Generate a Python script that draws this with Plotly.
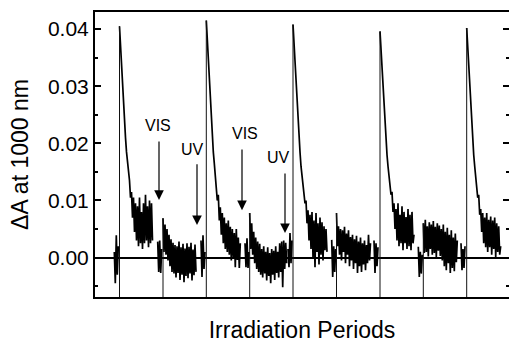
import numpy as np
import plotly.graph_objects as go

# ---- data (time in a.u., signal in units of 1e-3 ΔA) ----
uv_starts = [24.5, 111.3, 198.0, 285.0, 371.7]
vis_starts = [68.0, 154.7, 241.5, 328.3]
dark_starts = [19.3, 62.7, 106.0, 150.0, 193.0, 236.7, 279.0, 323.3, 366.0]

dark = [
    [1.0, -4.5, 3.9, -3.0, 2.0],
    [2.8, -2.5, 3.0, -2.7, 1.5],
    [3.0, -3.4, 3.9, -2.0, 1.0],
    [2.5, -1.7, 3.4, -1.8, 1.0],
    [1.5, -1.7, 4.3, -1.0, 3.0],
    [3.1, -3.4, 2.0, -2.5, 1.5],
    [3.0, -2.7, 2.5, -1.5, 1.8],
    [1.9, -3.4, 1.0, -2.8, 0.5],
    [2.5, -2.2, 1.5, -1.8, 2.0],
]

uv1 = [40.5, 37, 32.5, 29.5, 26, 23.5, 21, 18.5, 17, 14.5, 13.5, 10.5, 11.5, 7, 10.5, 4.5,
       9.5, 3, 9, 2, 10.5, 2.5, 8, 1.5, 9.5, 2.5, 11, 3, 9, 1.8, 10, 2.5, 9.5, 3]
uv2 = [41.5, 38, 33.5, 30, 26.5, 23.5, 21, 18.5, 16.5, 14, 12.5, 10, 11, 6.5, 8.8, 4,
       7.8, 2.5, 7, 1.5, 6, 1, 6.5, 0.5, 5.4, -0.5, 5, 0, 4.3, -1.7, 5, -0.4, 3.5, -1.8, 2.5]
uv3 = [40.8, 37.5, 33, 29.5, 26, 23, 20.5, 18.5, 16, 14.5, 12.5, 11.5, 9.5, 10, 6, 8.3,
       3, 7.5, 1.5, 8, 0, 6.5, -1.7, 7.8, 1, 6, -1.2, 7, 0.5, 6.2, -0.5, 5.5, 1.3, 5, 1]
uv4 = [39.6, 36.5, 32, 28.5, 25.5, 22.5, 20, 18, 16, 14, 13, 11, 11.5, 8, 9.5, 5,
       8.5, 3, 9.5, 2, 7.5, 2.5, 9, 1.3, 8, 2.5, 7.1, 1.5, 8.5, 2, 7.5, 1.3, 8, 2.5, 4]
uv5 = [40.2, 37, 33, 29.5, 26.5, 23, 20.5, 18, 16, 14, 12.5, 10.5, 11, 7.5, 8.5, 4.5,
       7.8, 2.5, 7.0, 1.8, 7.8, 1.0, 6.6, 1.8, 7.2, 0.5, 6.5, 1.5, 7.0, 0.1, 6.0, 1.0, 5.5, 0.5, 2.0]

vis1 = [6.9, 1.0, 5.8, 0.5, 5.0, -0.5, 4.0, -1.5, 3.2, -2.5, 2.6, -2.8, 2.2, -3.5, 2.0, -2.7,
        2.8, -3.9, 1.8, -3.0, 2.4, -4.3, 1.6, -3.2, 2.5, -3.6, 1.9, -2.8, 2.6, -4.0, 1.4, -3.1, 2.3, -2.5]
vis2 = [7.8, 1.5, 6.0, 0.5, 4.5, -1.0, 3.5, -2.0, 2.8, -2.5, 2.4, -3.0, 1.5, -3.5, 2.0, -2.8,
        1.0, -4.0, 1.8, -3.2, 0.8, -4.5, 1.5, -3.0, 1.2, -3.9, 2.0, -2.7, 1.0, -3.5, 2.5, -2.5,
        2.8, -5.2, 3.0, -2.0, 2.6, -1.0]
vis3 = [7.8, 2.0, 5.5, 0.5, 5.0, -0.5, 4.8, 1.0, 5.4, -1.0, 4.2, 0.5, 4.8, -1.5, 3.6, -0.5,
        4.0, -2.0, 3.2, -1.0, 3.8, -2.7, 2.8, -1.5, 3.5, -2.5, 2.5, -1.2, 3.0, -2.2, 2.2, -1.0, 4.0, -0.5, 2.5]
vis4 = [6.0, 0.8, 6.6, 1.0, 5.5, 0.2, 6.2, 1.5, 5.8, 0.5, 6.4, 0.8, 5.4, 0.1, 6.0, 1.2,
        5.6, 0.3, 5.0, -0.5, 5.8, -1.5, 4.5, -2.2, 5.2, -1.0, 4.0, -2.7, 4.8, -1.8, 3.5, -2.4, 4.2, -0.8, 3.0]

# annotation labels
arrow_labels = ["VIS", "UV", "VIS", "UV"]
arrow_x = [64, 102, 147, 190]
arrow_top = [20.6, 16.6, 19.2, 15.0]
arrow_tip = [10.1, 5.7, 8.3, 4.3]
label_x = [63, 97, 150, 183]
label_y = [23.2, 19.0, 21.8, 17.6]

# ---- assemble ----
uv = [uv1, uv2, uv3, uv4, uv5]
vis = [vis1, vis2, vis3, vis4]
segments = []
for s, v in zip(dark_starts, dark):
    segments.append((s, v))
for s, v in zip(uv_starts, uv):
    segments.append((s, v))
for s, v in zip(vis_starts, vis):
    segments.append((s, v))
segments.sort(key=lambda t: t[0])

xs, ys = [], []
for s, v in segments:
    for i, val in enumerate(v):
        xs.append(s + i)
        ys.append(val * 1e-3)
    xs.append(None)
    ys.append(None)

vx, vy = [], []
for s, v in zip(uv_starts + vis_starts, uv + vis):
    vx += [s, s, None]
    vy += [-0.01, v[0] * 1e-3, None]

FONT = "Liberation Sans, Arial, sans-serif"
fig = go.Figure()
fig.add_trace(go.Scatter(x=vx, y=vy, mode="lines", line=dict(color="#111", width=1),
                         hoverinfo="skip", showlegend=False, yaxis="y2"))
fig.add_trace(go.Scatter(x=xs, y=ys, mode="lines", line=dict(color="black", width=1.7),
                         showlegend=False))

for lab, ax_, top, tip, lx, ly in zip(arrow_labels, arrow_x, arrow_top, arrow_tip, label_x, label_y):
    fig.add_annotation(x=ax_, y=tip * 1e-3, ax=ax_, ay=top * 1e-3, axref="x", ayref="y",
                       xref="x", yref="y", text="", showarrow=True, arrowhead=2,
                       arrowsize=1.6, arrowwidth=1.2, arrowcolor="black", standoff=0)
    fig.add_annotation(x=lx, y=ly * 1e-3, xref="x", yref="y", text=lab, showarrow=False,
                       font=dict(family=FONT, size=16, color="black"))

yr = [-0.0069, 0.0430]
fig.update_layout(
    width=509, height=343,
    margin=dict(l=95, r=0, t=12, b=46),
    paper_bgcolor="white", plot_bgcolor="white",
    font=dict(family=FONT, color="black"),
    xaxis=dict(range=[0, 414], showline=True, linecolor="black", linewidth=2, mirror=True,
               ticks="", showticklabels=False, showgrid=False, zeroline=False,
               title=dict(text="Irradiation Periods", font=dict(size=23), standoff=26)),
    yaxis=dict(range=yr, showline=True, linecolor="black", linewidth=2, mirror=False,
               ticks="inside", ticklen=6, tickwidth=2, tickcolor="black",
               dtick=0.01, tick0=0, tickformat=".2f", tickfont=dict(size=21),
               showgrid=False, zeroline=True, zerolinecolor="black", zerolinewidth=2,
               minor=dict(ticks="inside", ticklen=3, tickwidth=2, tickcolor="black", dtick=0.005),
               title=dict(text="ΔA at 1000 nm", font=dict(size=23), standoff=13)),
    yaxis2=dict(range=yr, overlaying="y", side="right", showline=False,
                ticks="inside", ticklen=6, tickwidth=2, tickcolor="black",
                dtick=0.01, tick0=0, showticklabels=False, showgrid=False, zeroline=False,
                minor=dict(ticks="inside", ticklen=3, tickwidth=2, tickcolor="black", dtick=0.005)),
)
fig.write_html("out.html")
